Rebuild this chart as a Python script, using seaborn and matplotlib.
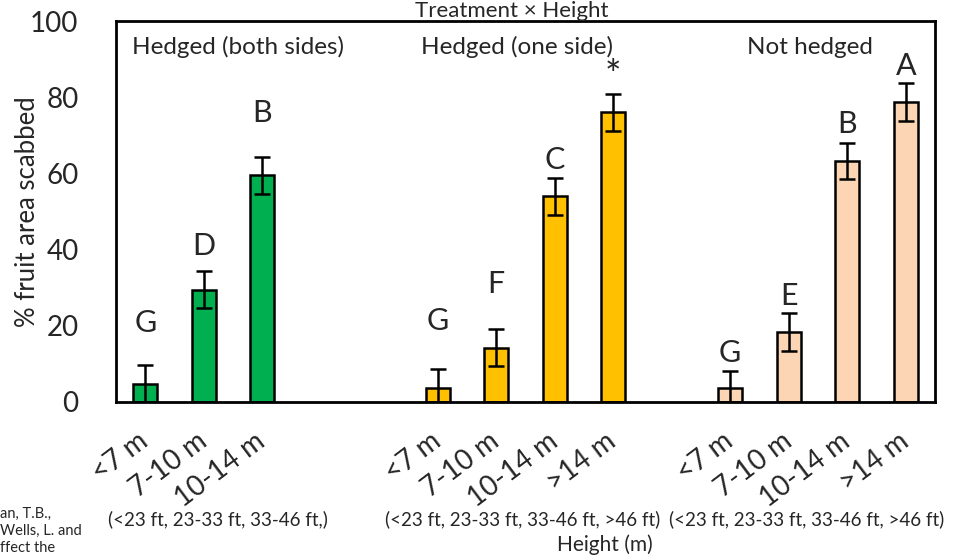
import matplotlib
matplotlib.use("Agg")
import matplotlib.pyplot as plt
import seaborn as sns
import pandas as pd

# Bar data
treatments = ["Hedged (both sides)"] * 3 + ["Hedged (one side)"] * 4 + ["Not hedged"] * 4
heights = ["<7 m", "7-10 m", "10-14 m",
           "<7 m", "7-10 m", "10-14 m", ">14 m",
           "<7 m", "7-10 m", "10-14 m", ">14 m"]
scab_pct = [4.8, 29.5, 59.5, 3.8, 14.3, 54.0, 76.0, 3.6, 18.4, 63.2, 78.7]
scab_err = [4.8, 4.8, 4.9, 4.8, 4.8, 4.8, 4.8, 4.6, 4.9, 4.8, 5.0]
letters = ["G", "D", "B", "G", "F", "C", "*", "G", "E", "B", "A"]
group_names = ["Hedged (both sides)", "Hedged (one side)", "Not hedged"]
feet_labels = ["(<23 ft, 23-33 ft, 33-46 ft,)",
               "(<23 ft, 23-33 ft, 33-46 ft, >46 ft)",
               "(<23 ft, 23-33 ft, 33-46 ft, >46 ft)"]
citation = ["an, T.B.,", "Wells, L. and", "ffect the"]

# layout (annotation heights in data units, x in category units)
letter_y = [18.4, 38.6, 73.5, 18.9, 28.6, 61.2, 82.5, 10.5, 25.5, 70.6, 85.8]
group_x = [1.59, 6.35, 11.36]
colors = {"Hedged (both sides)": "#00B050",
          "Hedged (one side)": "#FFC000",
          "Not hedged": "#FCD5B4"}

df = pd.DataFrame({"treatment": treatments, "height": heights,
                   "pct": scab_pct, "err": scab_err})
df["slot"] = df["treatment"] + "|" + df["height"]

# empty slots between the treatment groups
slots = list(df["slot"])
order = slots[:3] + ["gap1", "gap2"] + slots[3:7] + ["gap3"] + slots[7:]
xpos = [order.index(s) for s in slots]

sns.set_style("white")
plt.rcParams["font.family"] = ["Lato", "DejaVu Sans"]

fig = plt.figure(figsize=(9.61, 5.56), dpi=100)
ax = fig.add_axes([116 / 961, 154 / 556, 819 / 961, 381 / 556])

sns.barplot(data=df, x="slot", y="pct", hue="treatment", order=order,
            palette=colors, saturation=1, dodge=False, width=0.41,
            edgecolor="black", linewidth=1.8, legend=False, ax=ax)
ax.errorbar(xpos, scab_pct, yerr=scab_err, fmt="none", ecolor="black",
            elinewidth=1.8, capsize=6, capthick=1.8)

for x, y, s in zip(xpos, letter_y, letters):
    ax.text(x, y, s, ha="center", va="baseline",
            fontsize=28 if s == "*" else 22)
for x, name in zip(group_x, group_names):
    ax.text(x, 91.3, name, ha="center", va="baseline", fontsize=17.5)

ax.set_xlim(-0.5, len(order) - 0.5)
ax.set_ylim(0, 100)
ax.set_yticks(range(0, 101, 20))
ax.tick_params(axis="y", labelsize=20, length=8, width=1.8, pad=19, direction="out")
ax.set_xticks([i - 0.5 for i in range(len(order) + 1)])
ax.set_xticklabels([])
ax.set_xticks(xpos, minor=True)
ax.set_xticklabels(heights, minor=True, rotation=37, ha="right",
                   va="center", rotation_mode="anchor", fontsize=20)
ax.tick_params(axis="x", which="major", length=6, width=1.8, direction="out")
ax.tick_params(axis="x", which="minor", length=0, pad=26)
ax.set_xlabel("")
ax.set_ylabel("% fruit area scabbed", fontsize=18.5)
ax.yaxis.set_label_coords(-0.093, 0.5)
for side in ["left", "right", "top", "bottom"]:
    ax.spines[side].set_visible(True)
    ax.spines[side].set_color("black")
    ax.spines[side].set_linewidth(2)

fig.text(512 / 961, 1 - 17 / 556, "Treatment \u00d7 Height", ha="center",
         va="baseline", fontsize=16)
for cx, lab in zip([218, 523, 807], feet_labels):
    fig.text(cx / 961, 1 - 519 / 556, lab, ha="center", va="center", fontsize=13.5)
fig.text(605 / 961, 1 - 551 / 556, "Height (m)", ha="center", va="baseline",
         fontsize=15)
for i, line in enumerate(citation):
    fig.text(0.0, 1 - (514 + 17 * i) / 556, line, ha="left", va="center",
             fontsize=10.5)

fig.savefig("out.png", dpi=100)
